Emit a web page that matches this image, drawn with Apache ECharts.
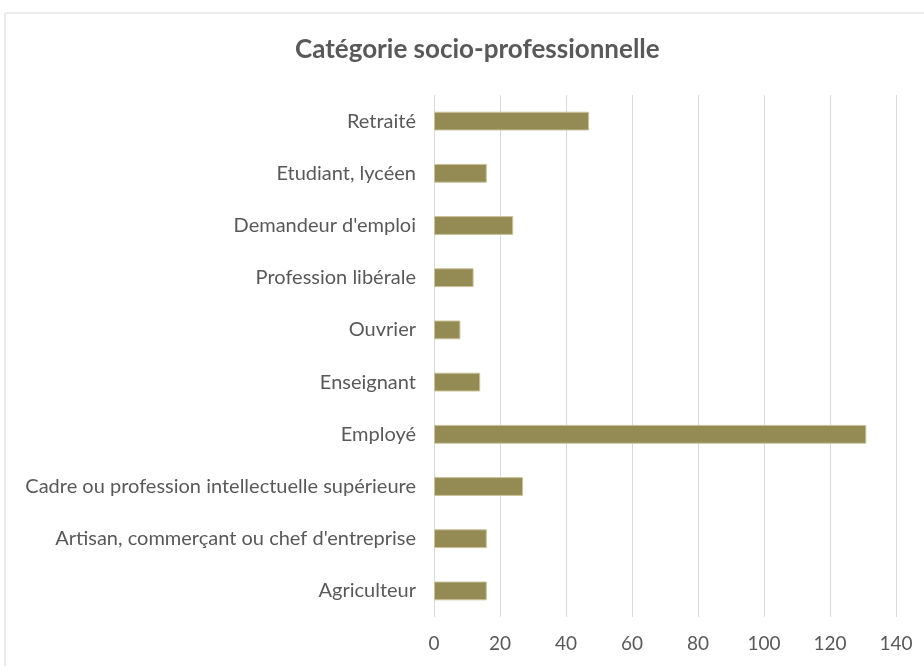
<!DOCTYPE html>
<html><head><meta charset="utf-8">
<script src="https://cdn.jsdelivr.net/npm/echarts@6/dist/echarts.min.js"></script>
<style>html,body{margin:0;padding:0;background:#fff}#c{width:924px;height:666px}</style>
</head><body><div id="c"></div>
<script>
const categories = ["Agriculteur","Artisan, commerçant ou chef d'entreprise","Cadre ou profession intellectuelle supérieure","Employé","Enseignant","Ouvrier","Profession libérale","Demandeur d'emploi","Etudiant, lycéen","Retraité"];
const values = [16,16,27,131,14,8,12,24,16,47];
const titleText = "Catégorie socio-professionnelle";
const chart = echarts.init(document.getElementById('c'), null, {renderer:'canvas'});
const font = "Lato, 'Open Sans', sans-serif";
chart.setOption({
  animation:false,
  backgroundColor:'#fff',
  graphic:[{type:'rect',shape:{x:5,y:13,width:940,height:700},style:{fill:'none',stroke:'#d9d9d9',lineWidth:1}}],
  title:{text:titleText,left:290,top:32,textStyle:{fontFamily:font,fontSize:26,fontWeight:'bold',color:'#595959'}},
  grid:{left:434,right:28,top:95,bottom:49,containLabel:false},
  xAxis:{type:'value',min:0,max:140,interval:20,
    axisLine:{show:false},axisTick:{show:false},
    axisLabel:{fontFamily:font,fontSize:19,color:'#595959',margin:17},
    splitLine:{lineStyle:{color:'#d9d9d9',width:1}}},
  yAxis:{type:'category',data:categories,
    axisLine:{show:false},axisTick:{show:false},
    axisLabel:{fontFamily:font,fontSize:20,color:'#595959',margin:18}},
  series:[{type:'bar',data:values,barWidth:'36%',
    itemStyle:{color:'#948a54',borderColor:'#c9c29b',borderWidth:1}}]
});
</script></body></html>
